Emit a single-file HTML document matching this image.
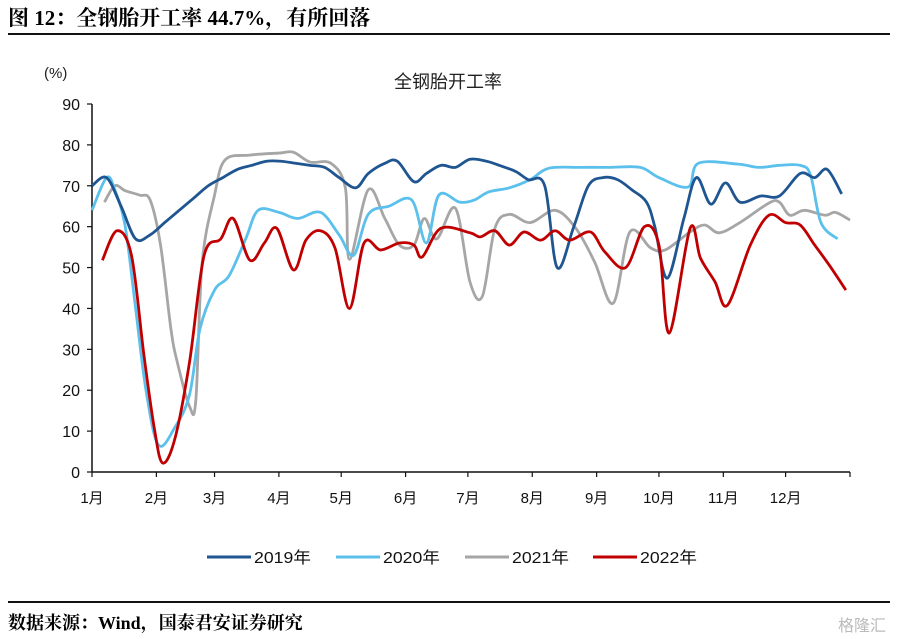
<!DOCTYPE html>
<html><head><meta charset="utf-8"><style>
body{margin:0;background:#fff;width:912px;height:639px;overflow:hidden;position:relative;font-family:"Liberation Serif","Noto Serif CJK SC",serif}
.t{position:absolute;white-space:nowrap}
</style></head><body>
<div class="t" style="left:8px;top:2px;font-size:21px;font-weight:bold;letter-spacing:0px">图 12：全钢胎开工率 44.7%，有所回落</div>
<div style="position:absolute;left:8px;top:33px;width:882px;height:2px;background:#111"></div>
<div style="position:absolute;left:8px;top:601px;width:882px;height:2px;background:#111"></div>
<div class="t" style="left:8px;top:609px;font-size:18px;font-weight:bold">数据来源：Wind，国泰君安证券研究</div>
<div class="t" style="left:838px;top:612px;font-size:16px;color:#bbb;font-family:'Noto Sans CJK SC',sans-serif">格隆汇</div>
<svg id="c" width="912" height="639" style="position:absolute;left:0;top:0" font-family="Liberation Sans, Noto Sans CJK SC, sans-serif"></svg>
<script>
const yTicks=[0,10,20,30,40,50,60,70,80,90];
const monthLabels=["1月","2月","3月","4月","5月","6月","7月","8月","9月","10月","11月","12月"];
const monthStartDays=[0,31,59,90,120,151,181,212,243,273,304,334,365];
const d2019=[0,7,14,21,28,35,42,49,56,63,70,77,84,91,98,105,112,119,127,133,141,147,155,161,168,175,182,190,196,204,210,218,224,232,239,246,253,260,267,271,277,285,291,298,305,312,322,331,341,348,354,361];
const v2019=[70,72,65,57,58,61,64,67,70,72,74,75,76,76,75.5,75,74.5,72,69.5,73,75.5,76,71,73,75,74.5,76.5,76,75,73.5,71.5,70,50,60,70,72,71.5,69,66,60,47.4,62,72,65.5,70.7,66,67.5,67.5,73,72,74,68];
const d2020=[0,7,11,16,21,26,32,40,47,52,59,66,74,80,90,99,110,119,126,133,143,154,161,167,177,184,191,201,211,220,235,249,264,273,287,292,311,321,331,341,346,351,359];
const v2020=[64,72,69,60,40,20,6.6,11,19,35,44.5,48,57,64,63.5,62,63.5,58,53,63,65,66.5,56,67.7,66,66.5,68.5,69.5,71.5,74.3,74.5,74.5,74.5,72,69.7,75.5,75.3,74.5,75,75,72.6,61,57];
const d2021=[6,11,16,23,28,33,38,41,47,50,53,59,64,76,90,97,105,115,122,124,133,141,148,155,160,166,175,182,188,194,201,211,223,233,242,251,259,269,276,288,295,302,312,326,331,336,343,353,358,365];
const v2021=[66,70,68.8,67.7,66.5,55.5,35,27,16,17.6,51,67.7,76.3,77.5,78,78.2,75.8,75.5,69.5,52,69,62,55.5,55.5,62,57,64.5,46.5,43,59.6,63,61,64,59.6,51.4,41.3,58.7,54.8,54.3,58.7,60.4,58.5,61,65.8,66,62.8,64,62.8,63.5,61.6];
const d2022=[5,12,19,25,30,34,40,47,54,62,68,76,83,89,97,103,110,117,124,131,139,148,155,159,168,182,187,194,201,208,216,223,230,240,247,257,266,273,278,288,293,300,306,317,326,334,341,348,355,363];
const v2022=[51.8,59,53,28.6,10.7,2.2,8.3,27,53,57,62,51.8,56,59.6,49.4,56.7,59,54.8,40,56,54.3,56,55.5,52.6,59.6,58.5,57.5,59,55.5,58.7,56.7,59,56.7,58.7,53.8,50,60,55.5,34,59.6,52.3,46.5,40.8,55.5,62.8,61,60.4,55.5,50.6,44.5];
const seriesNames=["2019年","2020年","2021年","2022年"];
const colors=["#1F5591","#5BC0EB","#A6A6A6","#C00000"];
const L=92,R=850,T=104,B=472;
const xs=d=>L+d/365*(R-L), ys=v=>B-v/90*(B-T);
const svg=document.getElementById('c'),NS="http://www.w3.org/2000/svg";
function mk(t,a,p){const e=document.createElementNS(NS,t);for(const k in a)e.setAttribute(k,a[k]);(p||svg).appendChild(e);return e;}
let e=mk('text',{x:448,y:88,'text-anchor':'middle','font-size':18,fill:'#222'});e.textContent="全钢胎开工率";


e=mk('text',{x:44,y:78,'font-size':15,fill:'#222'});e.textContent="(%)";


e=mk('line',{x1:L,y1:T,x2:L,y2:B,stroke:'#111','stroke-width':1.5});


e=mk('line',{x1:L,y1:B,x2:R,y2:B,stroke:'#111','stroke-width':1.5});


yTicks.forEach(v=>{const y=ys(v);
 let t=mk('line',{x1:L-5,y1:y,x2:L,y2:y,stroke:'#111','stroke-width':1.2});
 
 
 let l=mk('text',{x:L-12,y:y+6,'text-anchor':'end','font-size':16,fill:'#111'});l.textContent=v;
 
 
});
monthStartDays.forEach((d,i)=>{const x=xs(d);
 let t=mk('line',{x1:x,y1:B,x2:x,y2:B+5,stroke:'#111','stroke-width':1.2});
 
 
 if(i<12){let l=mk('text',{x:x,y:B+31,'text-anchor':'middle','font-size':15,fill:'#111'});l.textContent=monthLabels[i];
 
 }
});
function path(ds,vs){const p=ds.map((d,i)=>[xs(d),ys(vs[i])]);let s=`M${p[0][0]},${p[0][1]}`;
 for(let i=0;i<p.length-1;i++){const p0=p[Math.max(0,i-1)],p1=p[i],p2=p[i+1],p3=p[Math.min(p.length-1,i+2)];const k=1/6;
 s+=` C${p1[0]+(p2[0]-p0[0])*k},${p1[1]+(p2[1]-p0[1])*k} ${p2[0]-(p3[0]-p1[0])*k},${p2[1]-(p3[1]-p1[1])*k} ${p2[0]},${p2[1]}`;}
 return s;}
const all=[[d2019,v2019],[d2020,v2020],[d2021,v2021],[d2022,v2022]];
[2,1,0,3].forEach(i=>{let p=mk('path',{d:path(all[i][0],all[i][1]),fill:'none',stroke:colors[i],'stroke-width':2.8,'stroke-linejoin':'round'});
 
 });
const lx=[207,336,465,593];
seriesNames.forEach((n,i)=>{const g=mk('g',{});
 
 
 mk('line',{x1:lx[i],y1:557,x2:lx[i]+44,y2:557,stroke:colors[i],'stroke-width':3},g);
 const t=mk('text',{x:lx[i]+47,y:563,'font-size':16,fill:'#111',textLength:57,lengthAdjust:'spacingAndGlyphs'},g);t.textContent=n;});
</script>
</body></html>
